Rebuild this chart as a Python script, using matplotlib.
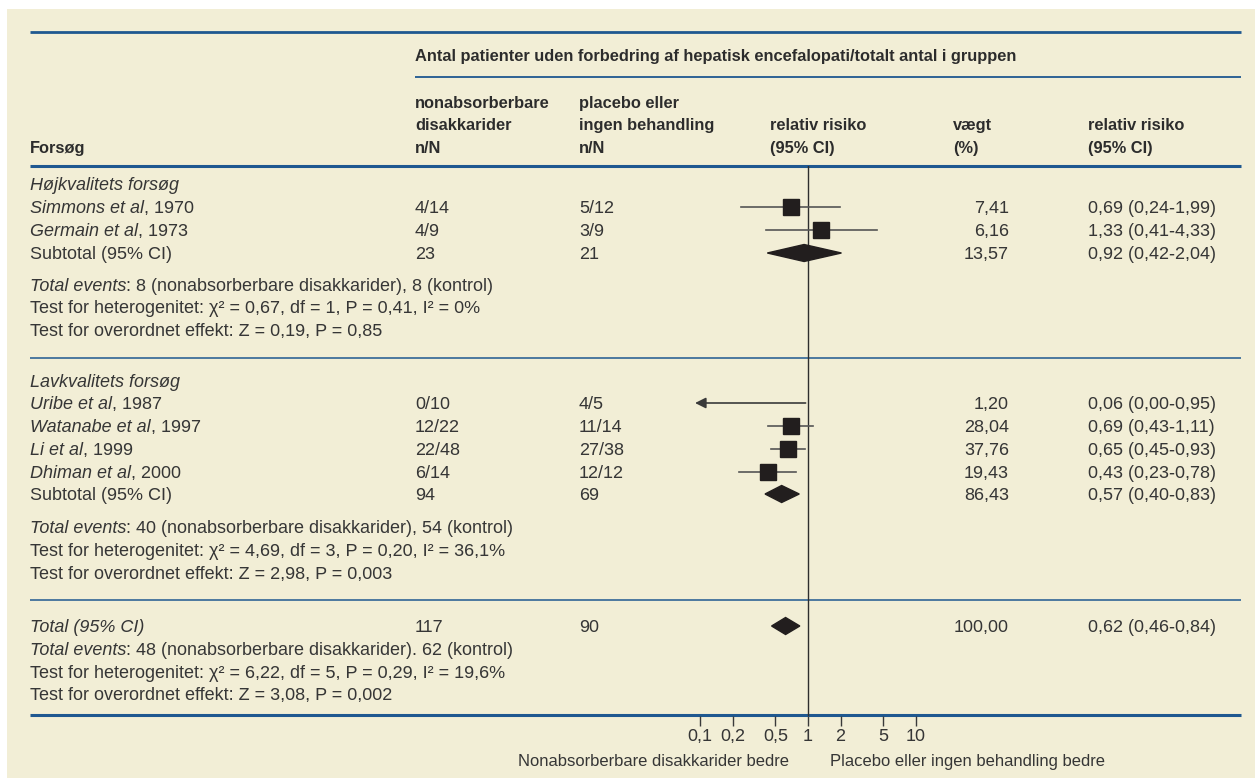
import matplotlib
matplotlib.use("Agg")
import matplotlib.pyplot as plt
from matplotlib.patches import Polygon, Rectangle
from matplotlib.ticker import FixedLocator, FixedFormatter, NullLocator

plt.rcParams["text.hinting"] = "native"

# ---------------- data ----------------
study_names = ["Simmons et al", "Germain et al", "Uribe et al", "Watanabe et al", "Li et al", "Dhiman et al"]
study_years = ["1970", "1973", "1987", "1997", "1999", "2000"]
treat_nN = ["4/14", "4/9", "0/10", "12/22", "22/48", "6/14"]
ctrl_nN = ["5/12", "3/9", "4/5", "11/14", "27/38", "12/12"]
rr = [0.69, 1.33, 0.06, 0.69, 0.65, 0.43]
rr_lo = [0.24, 0.41, 0.00, 0.43, 0.45, 0.23]
rr_hi = [1.99, 4.33, 0.95, 1.11, 0.93, 0.78]
weights = [7.41, 6.16, 1.20, 28.04, 37.76, 19.43]

pooled_labels = ["Subtotal (95% CI)", "Subtotal (95% CI)", "Total (95% CI)"]
pooled_treat_N = [23, 94, 117]
pooled_ctrl_N = [21, 69, 90]
pooled_rr = [0.92, 0.57, 0.62]
pooled_lo = [0.42, 0.40, 0.46]
pooled_hi = [2.04, 0.83, 0.84]
pooled_w = [13.57, 86.43, 100.00]

events_treat = [8, 40, 48]
events_ctrl = [8, 54, 62]
events_sep = [",", ",", "."]
chi2 = [0.67, 4.69, 6.22]
het_df = [1, 3, 5]
het_p = [0.41, 0.20, 0.29]
i2 = [0, 36.1, 19.6]
z_eff = [0.19, 2.98, 3.08]
p_eff = [0.85, 0.003, 0.002]

section_titles = ["Højkvalitets forsøg", "Lavkvalitets forsøg"]
tick_vals = [0.1, 0.2, 0.5, 1, 2, 5, 10]
tick_labels = ["0,1", "0,2", "0,5", "1", "2", "5", "10"]

# ---------------- layout (pixels) ----------------
W, H = 1255, 778
CREAM = "#f2eed6"
BLUE = "#1f5890"
TXT = "#363636"
MARK = "#221e1e"

X_LEFT, X_C1, X_C2, X_RRH, X_W, X_RR = 30, 415, 579, 770, 1009, 1088
X_WH = 953
LINE_L, LINE_R = 30, 1241
X_ONE, DECADE = 808, 108           # pixel of RR=1 and pixels per decade
FX_L, FX_R, FX_T, FX_B = 640, 980, 166, 716
ARROW_END = 0.09

study_rows = [207, 230, 403, 426, 449, 472]
pooled_rows = [253, 494, 626]
section_rows = [184, 381]
events_rows = [285, 527, 649]
het_rows = [307, 550, 672]
eff_rows = [330, 573, 694]

BODY = dict(family=["Liberation Sans", "DejaVu Sans"], size=13, color=TXT)
HEAD = dict(family=["Liberation Sans", "DejaVu Sans"], weight="bold", size=11.8, color="#2c2c2c")
BASE = 6  # baseline offset below row centre


def fmt(v, d=2):
    return f"{v:.{d}f}".replace(".", ",")


def gfmt(v):
    return f"{v:g}".replace(".", ",")


fig = plt.figure(figsize=(W / 100, H / 100), dpi=100, facecolor="white")
bg = fig.add_axes([0, 0, 1, 1])
bg.set_xlim(0, W)
bg.set_ylim(H, 0)
bg.axis("off")
bg.add_patch(Rectangle((7, 9), W - 7, H - 9, color=CREAM, lw=0, zorder=0))
renderer = fig.canvas.get_renderer()


def txt(x, y, s, style=BODY, **kw):
    opts = dict(style)
    opts.update(kw)
    return bg.text(x, y + BASE, s, va="baseline", **opts)


def mixed(x, y, parts):
    for s, st in parts:
        t = txt(x, y, s, fontstyle=st)
        x += t.get_window_extent(renderer).width


# horizontal rules
for y, lw, x0 in [(32, 2.0, LINE_L), (77, 1.3, X_C1), (166, 2.2, LINE_L),
                  (358, 1.1, LINE_L), (600, 1.1, LINE_L), (715, 2.2, LINE_L)]:
    bg.plot([x0, LINE_R], [y, y], color=BLUE, lw=lw, solid_capstyle="butt", zorder=2)

# header
txt(X_C1, 55, "Antal patienter uden forbedring af hepatisk encefalopati/totalt antal i gruppen", HEAD)
for x, lines in [(X_C1, ["nonabsorberbare", "disakkarider", "n/N"]),
                 (X_C2, ["placebo eller", "ingen behandling", "n/N"]),
                 (X_RRH, ["", "relativ risiko", "(95% CI)"]),
                 (X_WH, ["", "vægt", "(%)"]),
                 (X_RR, ["", "relativ risiko", "(95% CI)"]),
                 (X_LEFT, ["", "", "Forsøg"])]:
    for y, s in zip([102, 124, 147], lines):
        if s:
            txt(x, y, s, HEAD)

# section titles
for y, s in zip(section_rows, section_titles):
    txt(X_LEFT, y, s, fontstyle="italic")

# studies
for i, y in enumerate(study_rows):
    mixed(X_LEFT, y, [(study_names[i], "italic"), (", " + study_years[i], "normal")])
    txt(X_C1, y, treat_nN[i])
    txt(X_C2, y, ctrl_nN[i])
    txt(X_W, y, fmt(weights[i]), ha="right")
    txt(X_RR, y, f"{fmt(rr[i])} ({fmt(rr_lo[i])}-{fmt(rr_hi[i])})")

# pooled rows
for i, y in enumerate(pooled_rows):
    txt(X_LEFT, y, pooled_labels[i], fontstyle="italic" if i == 2 else "normal")
    txt(X_C1, y, str(pooled_treat_N[i]))
    txt(X_C2, y, str(pooled_ctrl_N[i]))
    txt(X_W, y, fmt(pooled_w[i]), ha="right")
    txt(X_RR, y, f"{fmt(pooled_rr[i])} ({fmt(pooled_lo[i])}-{fmt(pooled_hi[i])})")

# summary statistics
for i in range(3):
    mixed(X_LEFT, events_rows[i],
          [("Total events", "italic"),
           (f": {events_treat[i]} (nonabsorberbare disakkarider){events_sep[i]} {events_ctrl[i]} (kontrol)", "normal")])
    txt(X_LEFT, het_rows[i],
        f"Test for heterogenitet: χ² = {fmt(chi2[i])}, df = {het_df[i]}, P = {fmt(het_p[i])}, I² = {gfmt(i2[i])}%")
    txt(X_LEFT, eff_rows[i], f"Test for overordnet effekt: Z = {fmt(z_eff[i])}, P = {gfmt(p_eff[i])}")

# ---------------- forest axes ----------------
fx = fig.add_axes([FX_L / W, 1 - FX_B / H, (FX_R - FX_L) / W, (FX_B - FX_T) / H])
fx.set_facecolor("none")
fx.set_xscale("log")
fx.set_xlim(10 ** ((FX_L - X_ONE) / DECADE), 10 ** ((FX_R - X_ONE) / DECADE))
fx.set_ylim(FX_B, FX_T)
for sp in fx.spines.values():
    sp.set_visible(False)
fx.yaxis.set_visible(False)
fx.xaxis.set_major_locator(FixedLocator(tick_vals))
fx.xaxis.set_major_formatter(FixedFormatter(tick_labels))
fx.xaxis.set_minor_locator(NullLocator())
fx.tick_params(axis="x", direction="out", length=7.2, width=1.0, color="#3a3a3a",
               labelsize=13, labelcolor=TXT, pad=1.5)
for lab in fx.get_xticklabels():
    lab.set_family(["Liberation Sans", "DejaVu Sans"])

fx.axvline(1, color="#2e2e2e", lw=1.0, zorder=1)

for i, y in enumerate(study_rows):
    if rr_lo[i] <= 0:
        fx.annotate("", xy=(ARROW_END, y), xytext=(rr_hi[i], y),
                    arrowprops=dict(arrowstyle="-|>", color="#3a3a3a", lw=1.2,
                                    mutation_scale=16, shrinkA=0, shrinkB=0))
        continue
    fx.plot([rr_lo[i], rr_hi[i]], [y, y], color="#555555", lw=1.2, zorder=2)
    fx.plot(rr[i], y, marker="s", ms=11.5, color=MARK, mec=MARK, zorder=3)

for i, y in enumerate(pooled_rows):
    h = 8.5
    fx.add_patch(Polygon([[pooled_lo[i], y], [pooled_rr[i], y - h],
                          [pooled_hi[i], y], [pooled_rr[i], y + h]],
                         closed=True, color=MARK, zorder=3))

txt(789, 760, "Nonabsorberbare disakkarider bedre", size=12, ha="right")
txt(830, 760, "Placebo eller ingen behandling bedre", size=12)

fig.savefig("out.png", dpi=100, facecolor="white")
